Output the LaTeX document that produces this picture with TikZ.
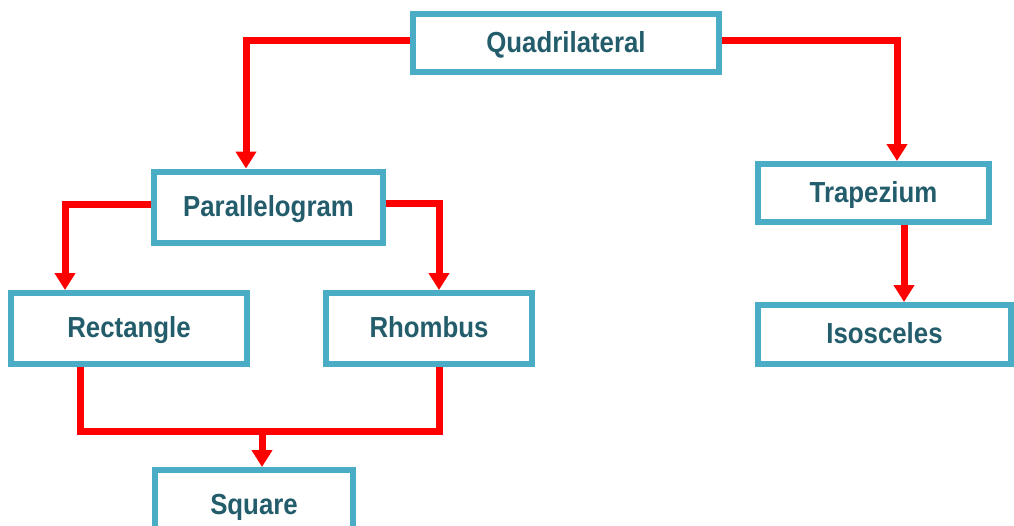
\documentclass[tikz,border=0pt]{standalone}
\usepackage{fontspec}
\newfontfamily\lab{Liberation Sans}[FakeStretch=0.89]
\usetikzlibrary{arrows.meta}
\definecolor{boxblue}{HTML}{4BACC6}
\definecolor{txt}{HTML}{235D6C}
\definecolor{conred}{HTML}{FF0000}
\tikzset{
  box/.style={draw=boxblue, line width=6pt, fill=white, inner sep=0pt,
    font=\lab\bfseries\fontsize{29}{34}\selectfont, text=txt,
    text height=21pt, text depth=3pt},
  conn/.style={draw=conred, line width=7pt},
  arr/.style={conn, -{Triangle[width=20pt,length=17pt]}}
}
\begin{document}
\begin{tikzpicture}[x=1pt,y=-1pt]
\useasboundingbox (0,0) rectangle (1014,525);
\node[box, minimum width=306pt, minimum height=58pt] (quad) at (566,43) {Quadrilateral};
\node[box, minimum width=229pt, minimum height=71pt] (para) at (268.5,207) {Parallelogram};
\node[box, minimum width=236pt, minimum height=71pt] (rect) at (129,328.5) {Rectangle};
\node[box, minimum width=206pt, minimum height=71pt] (rho) at (429,328.5) {Rhombus};
\node[box, minimum width=198pt, minimum height=71pt] (sq) at (254,505.5) {Square};
\node[box, minimum width=231pt, minimum height=58pt] (trap) at (873.5,193) {Trapezium};
\node[box, minimum width=253pt, minimum height=59pt] (iso) at (884.5,334.5) {Isosceles};
\coordinate (j) at (262,431);
% connectors
\draw[arr] ([yshift=3pt]quad.west) -| ([xshift=-22.5pt]para.north);
\draw[arr] ([yshift=3pt]quad.east) -| ([xshift=23.5pt]trap.north);
\draw[arr] ([yshift=3pt]para.west) -| ([xshift=-64pt]rect.north);
\draw[arr] ([yshift=4pt]para.east) -| ([xshift=10pt]rho.north);
\draw[conn] ([xshift=-49pt]rect.south) |- (j) -| ([xshift=10pt]rho.south);
\draw[arr] (j) -- ([xshift=8pt]sq.north);
\draw[arr] ([xshift=30.5pt]trap.south) -- ([xshift=30.5pt]trap.south |- iso.north);
\end{tikzpicture}
\end{document}
